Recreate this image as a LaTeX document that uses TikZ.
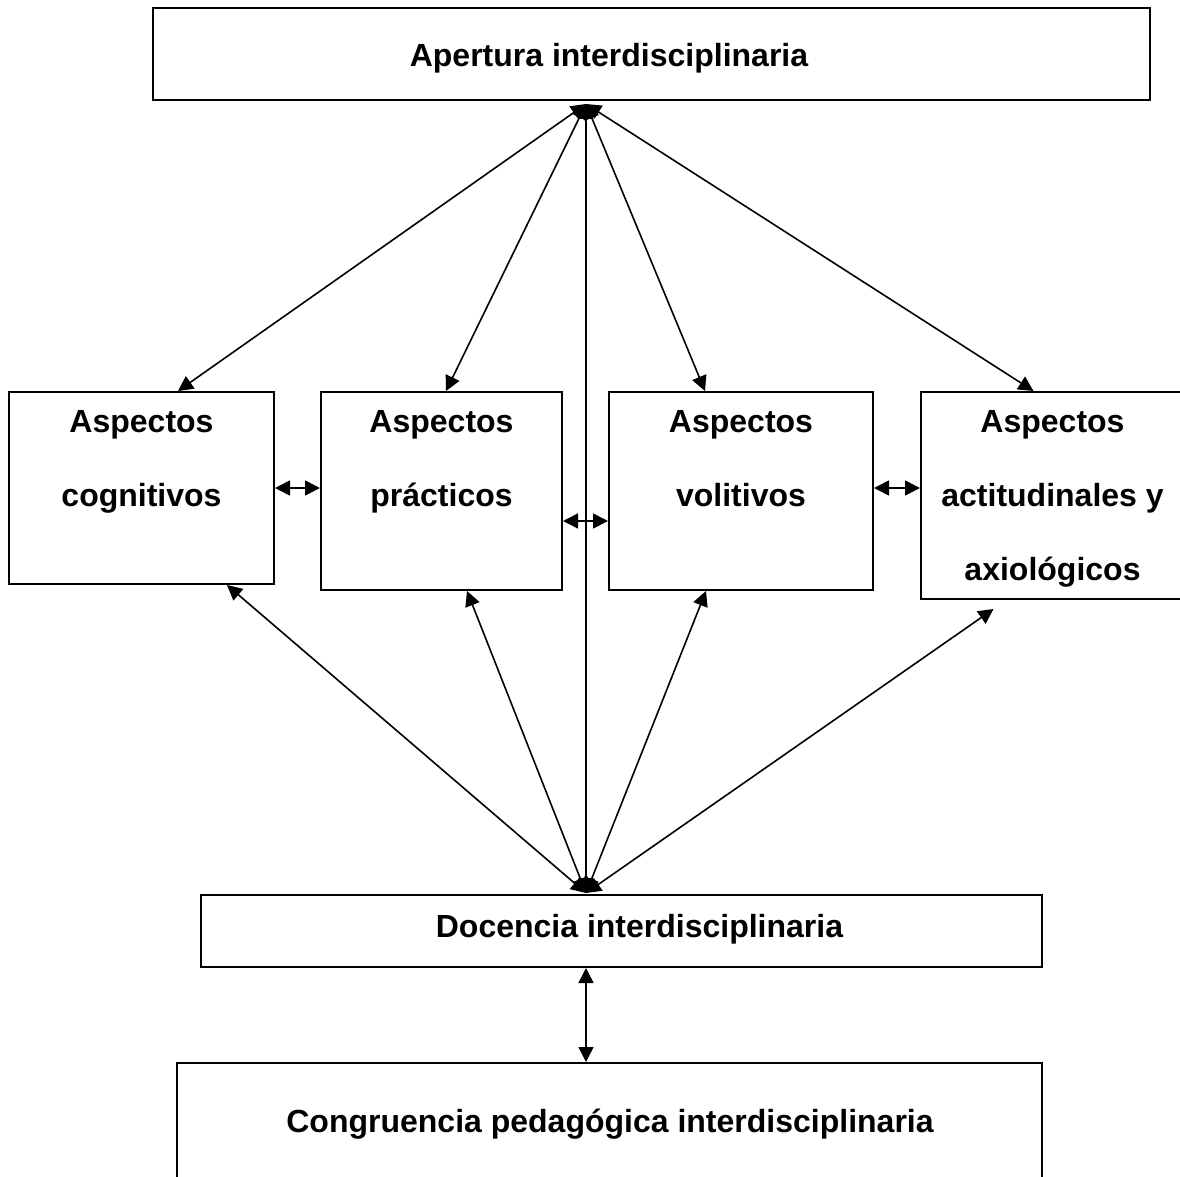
\documentclass[tikz,border=0pt]{standalone}
\usepackage{fontspec}
\setmainfont{Liberation Sans}
\usetikzlibrary{arrows.meta}
\tikzset{
  box/.style={draw, line width=2pt, inner sep=0pt},
  lbl/.style={font=\bfseries\fontsize{32}{74}\selectfont, inner sep=0pt, align=center},
  link/.style={line width=1.6pt, {Triangle[length=15pt,width=15pt]}-{Triangle[length=15pt,width=15pt]}}
}
\begin{document}
\begin{tikzpicture}[x=1pt,y=-1pt]
    \useasboundingbox (0,0) rectangle (1180,1177);
    %boxes
    \node[box, minimum width=997pt, minimum height=92pt] (aper) at (651.5,54) {};
    \node[box, minimum width=265pt, minimum height=192pt] (cog) at (141.5,488) {};
    \node[box, minimum width=241pt, minimum height=198pt] (prac) at (441.5,491) {};
    \node[box, minimum width=264pt, minimum height=198pt] (vol) at (741,491) {};
    \node[box, minimum width=265pt, minimum height=207pt] (act) at (1053.5,495.5) {};
    \node[box, minimum width=841pt, minimum height=72pt] (doc) at (621.5,931) {};
    \node[box, minimum width=865pt, minimum height=140pt] (con) at (609.5,1133) {};
    %texts
    \node[lbl, anchor=base] (aperTxt) at (609,67) {Apertura interdisciplinaria};
    \node[lbl, anchor=north] (cogTxt) at (141.5,410) {Aspectos\\cognitivos};
    \node[lbl, anchor=north] (pracTxt) at (441.5,410) {Aspectos\\prácticos};
    \node[lbl, anchor=north] (volTxt) at (741,410) {Aspectos\\volitivos};
    \node[lbl, anchor=north] (actTxt) at (1052.5,410) {Aspectos\\actitudinales y\\axiológicos};
    \node[lbl, anchor=base] (docTxt) at (639.5,937) {Docencia interdisciplinaria};
    \node[lbl, anchor=base] (conTxt) at (610,1132) {Congruencia pedagógica interdisciplinaria};
    %meeting points
    \coordinate (up) at (586,104);
    \coordinate (down) at (586,893);
    %links from the top
    \draw[link] (up) -- ([xshift=36.5pt]cog.north);
    \draw[link] (up) -- ([xshift=4.5pt]prac.north);
    \draw[link] (up) -- ([xshift=-36pt]vol.north);
    \draw[link] (up) -- ([xshift=-20pt]act.north);
    \draw[link] (up) -- (down);
    %links from the bottom
    \draw[link] (down) -- ([xshift=85.5pt]cog.south);
    \draw[link] (down) -- ([xshift=25.5pt]prac.south);
    \draw[link] (down) -- ([xshift=-35pt]vol.south);
    \draw[link] (down) -- ([xshift=-60pt,yshift=-9pt]act.south);
    %side links
    \draw[link] (cog.east) -- (cog.east -| prac.west);
    \draw[link] ([yshift=-30pt]prac.east) -- ([yshift=-30pt]vol.west);
    \draw[link] ([yshift=3pt]vol.east) -- ([yshift=3pt]vol.east -| act.west);
    \draw[link] (down |- doc.south) -- (down |- con.north);
\end{tikzpicture}
\end{document}
